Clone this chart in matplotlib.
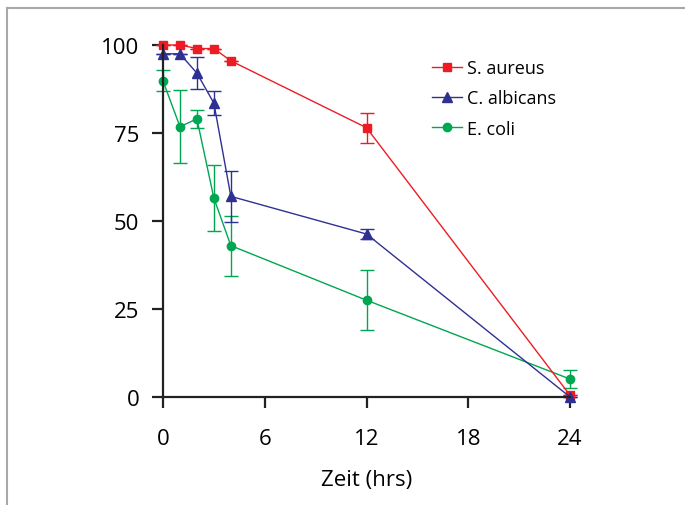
import matplotlib
matplotlib.use("Agg")
import matplotlib.pyplot as plt
from matplotlib.lines import Line2D

plt.rcParams['font.family'] = ['Open Sans', 'DejaVu Sans']

hours = [0, 1, 2, 3, 4, 12, 24]
aureus = [100, 100, 99, 99, 95.5, 76.5, 0.5]
aureus_err = [0, 0, 0, 0, 0, 4.2, 0]
albicans = [97.5, 97.5, 92, 83.5, 57, 46.3, 0]
albicans_err = [0, 0, 4.5, 3.5, 7.3, 1.5, 0]
ecoli = [89.8, 76.8, 79, 56.5, 43, 27.5, 5.1]
ecoli_err = [3.0, 10.4, 2.5, 9.4, 8.5, 8.5, 2.5]
xticks = [0, 6, 12, 18, 24]
yticks = [0, 25, 50, 75, 100]

RED = '#ed1c24'
BLUE = '#2e3192'
GREEN = '#00a651'

W, H = 685, 506
fig = plt.figure(figsize=(W / 100, H / 100), dpi=100)

# gray frame (left and top edges)
fig.add_artist(Line2D([7 / W, 7 / W], [0, 1 - 9 / H], color='#a8a8a8', lw=1.5, transform=fig.transFigure))
fig.add_artist(Line2D([7 / W, 1], [1 - 9 / H, 1 - 9 / H], color='#a8a8a8', lw=1.5, transform=fig.transFigure))

ax = fig.add_axes([163 / W, 1 - 398 / H, (570 - 163) / W, (398 - 46) / H])

series = [
    ('E. coli', ecoli, ecoli_err, GREEN, 'o', 6.0),
    ('S. aureus', aureus, aureus_err, RED, 's', 5.6),
    ('C. albicans', albicans, albicans_err, BLUE, '^', 6.5),
]
handles = {}
for name, vals, err, col, mk, ms in series:
    c = ax.errorbar(hours, vals, yerr=err, color=col, marker=mk, markersize=ms,
                    lw=1.0, elinewidth=1.0, capsize=5, capthick=1.0, clip_on=False)
    for coll in c.get_children():
        coll.set_clip_on(False)
    handles[name] = Line2D([], [], color=col, marker=mk, markersize=ms, lw=1.0)

ax.set_xlim(0, 24)
ax.set_ylim(0, 100)
ax.set_xticks(xticks)
ax.set_yticks(yticks)
for s in ['top', 'right']:
    ax.spines[s].set_visible(False)
for s in ['left', 'bottom']:
    ax.spines[s].set_linewidth(1.6)
    ax.spines[s].set_color('#222222')
ax.tick_params(direction='out', length=8, width=1.6, color='#222222', labelsize=16)
ax.tick_params(axis='y', pad=9)
ax.tick_params(axis='x', pad=14.5)
ax.set_xlabel('Zeit (hrs)', fontsize=16, labelpad=14)

order = ['S. aureus', 'C. albicans', 'E. coli']
leg = fig.legend([handles[n] for n in order], order, loc='upper left',
                 bbox_to_anchor=(432 / W, 1 - 60 / H), frameon=False, fontsize=13,
                 handlelength=1.65, handletextpad=0.3, labelspacing=0.68,
                 borderpad=0, borderaxespad=0)

fig.savefig('out.png', dpi=100)
